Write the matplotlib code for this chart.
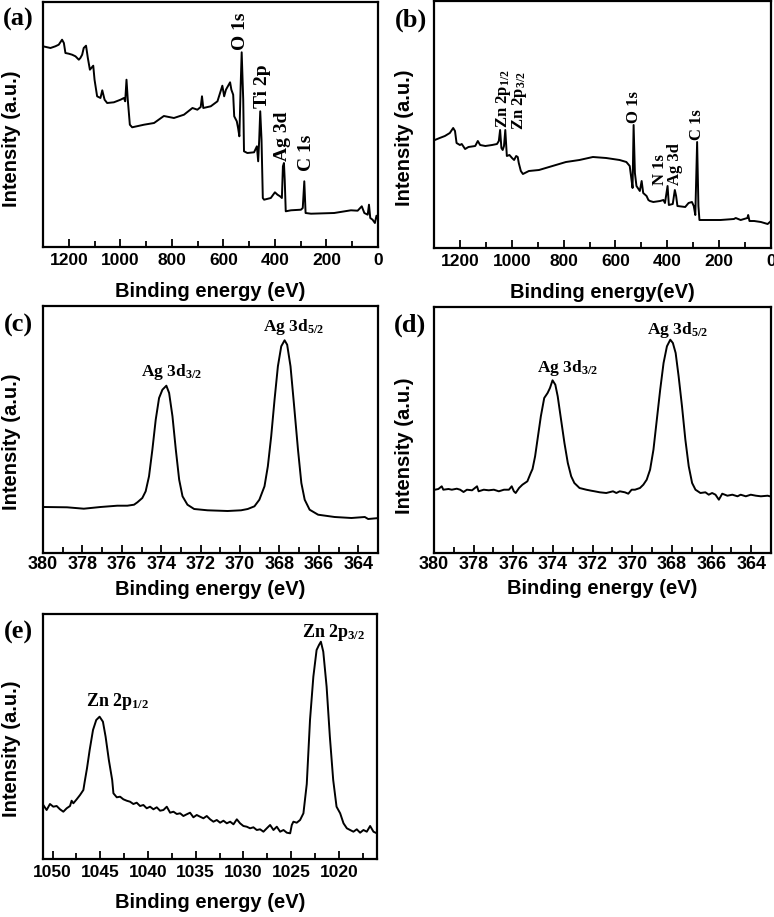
import matplotlib
matplotlib.use("Agg")
import matplotlib.pyplot as plt
from matplotlib.ticker import MultipleLocator

# ---- data ----
# (a) survey spectrum
a_energy = [1300, 1271, 1252, 1239, 1226, 1219, 1213, 1200, 1187, 1174,
            1161, 1155, 1148, 1142, 1133, 1126, 1118, 1105, 1100, 1090,
            1077, 1070, 1061, 1051, 1025, 999, 986, 981, 976, 971,
            963, 954, 908, 869, 831, 792, 753, 720, 701, 688,
            683, 678, 649, 623, 604, 597, 590, 574, 569, 562,
            558, 548, 543, 538, 533, 529, 523, 520, 507, 481,
            470, 465, 461, 457, 452, 447, 442, 416, 400, 390,
            380, 373, 369, 365, 362, 358, 338, 299, 292, 286,
            281, 260, 170, 105, 79, 63, 53, 40, 35, 30,
            21, 12, 6, 0]
a_intensity = [200.7, 199, 200.7, 202.3, 207.3, 204, 194, 193.3, 192.3, 190.7,
               187.3, 189, 192.3, 199, 201.3, 189, 177.3, 181.3, 167.3, 150.7,
               149, 156.7, 147.3, 144, 144.7, 147.3, 149, 145.7, 167.3, 147.3,
               122.3, 119.7, 122.3, 124, 131, 129, 132.3, 139, 137.3, 140,
               150.7, 139, 140.7, 145.7, 161.3, 150.7, 157.3, 164.7, 157.3, 152.3,
               130.7, 125.7, 119, 110.7, 160.7, 194.7, 147.3, 95.7, 94, 94.7,
               100.7, 85.7, 107.3, 135.7, 107.3, 49, 47.3, 49, 54.7, 52.3,
               50.7, 49, 80.7, 84, 67.3, 35.7, 36.7, 37.3, 39, 65.7,
               34, 33.3, 34, 36.7, 36.3, 40.7, 34, 32.3, 42.3, 29,
               27.3, 24, 31.3, 27.3]

# (b) survey spectrum
b_energy = [1297, 1278, 1258, 1239, 1226, 1219, 1213, 1200, 1193, 1180,
            1167, 1141, 1131, 1122, 1102, 1076, 1057, 1050, 1045, 1040,
            1035, 1030, 1025, 1019, 1009, 999, 991, 983, 977, 973,
            965, 957, 934, 895, 843, 791, 739, 687, 636, 610,
            584, 558, 545, 538, 534, 530, 525, 519, 506, 499,
            493, 480, 473, 467, 454, 428, 415, 409, 399, 394,
            379, 371, 366, 361, 331, 318, 305, 298, 292, 285,
            280, 276, 246, 195, 143, 136, 117, 91, 88, 83,
            65, 39, 13, 0]
b_intensity = [108, 110, 112, 115, 120, 117, 105, 103, 104, 99,
               101, 102, 107, 103, 102, 103, 104, 107, 118, 100,
               98, 102, 118, 92, 93, 90, 88, 92, 91, 85,
               77, 74, 77, 78, 82, 86, 88, 91, 90, 89,
               88, 86, 82, 68, 60, 123, 75, 62, 57, 67,
               55, 52, 48, 47, 46, 47, 48, 45, 62, 43,
               44, 58, 52, 42, 41, 45, 46, 42, 33, 106,
               42, 28, 28, 28, 29, 30, 28, 30, 33, 27,
               27, 26, 24, 27]

# (c) Ag 3d high resolution
c_energy = [379.97, 378.78, 377.93, 377.08, 376.23, 375.72, 375.38, 375.21, 374.96, 374.79,
            374.62, 374.45, 374.28, 374.11, 373.94, 373.74, 373.60, 373.43, 373.26, 373.09,
            372.92, 372.67, 372.33, 371.65, 370.63, 369.95, 369.61, 369.27, 369.02, 368.76,
            368.59, 368.42, 368.25, 368.08, 367.91, 367.74, 367.61, 367.44, 367.27, 367.06,
            366.89, 366.72, 366.47, 366.04, 365.20, 364.35, 363.67, 363.50, 362.94]
c_intensity = [46, 45.7, 44.3, 46, 47.3, 47.3, 48.3, 50.7, 55, 61.7,
               76.7, 103.3, 133.3, 155, 163.3, 167.3, 160, 136.7, 103.3, 73.3,
               56.7, 48.3, 44, 42.7, 42, 42.7, 44, 46.7, 53.3, 66.7,
               86.7, 116.7, 153.3, 186.7, 206.7, 212.7, 208.3, 186.7, 150, 103.3,
               70, 53.3, 43.3, 38.3, 36, 35, 36, 34, 35]

# (d) Ag 3d high resolution
d_energy = [379.95, 379.78, 379.61, 379.53, 379.27, 379.10, 378.85, 378.68, 378.51, 378.34,
            378.08, 377.83, 377.75, 377.49, 377.24, 376.98, 376.73, 376.47, 376.22, 376.08,
            375.97, 375.88, 375.71, 375.54, 375.29, 375.12, 375.03, 374.90, 374.78, 374.61,
            374.44, 374.27, 374.15, 374.02, 373.88, 373.76, 373.59, 373.42, 373.25, 373.08,
            372.92, 372.66, 372.32, 372.07, 371.90, 371.64, 371.31, 370.97, 370.80, 370.63,
            370.37, 370.20, 370.03, 369.86, 369.61, 369.44, 369.27, 369.10, 368.93, 368.76,
            368.59, 368.42, 368.25, 368.08, 367.95, 367.81, 367.66, 367.49, 367.32, 367.15,
            366.98, 366.81, 366.56, 366.31, 366.14, 365.97, 365.80, 365.63, 365.46, 365.20,
            364.95, 364.69, 364.53, 364.27, 364.02, 363.76, 363.51, 363.17, 362.92]
d_intensity = [63.3, 64, 66.7, 63.3, 64, 63.3, 64.3, 63.3, 61, 63.3,
               62.7, 66.7, 61.7, 63.3, 62.7, 63.3, 61.7, 63.3, 63.3, 66.7,
               61.7, 60, 65, 68.3, 71.7, 80, 84, 96.7, 113.3, 136.7,
               155, 160, 165, 172.7, 168.3, 156.7, 133.3, 110, 90, 76.7,
               70, 65, 63.3, 62.3, 61.7, 60.7, 60, 61.7, 60, 61.7,
               60.7, 59.3, 63.3, 63.3, 65, 68.3, 73.3, 83.3, 103.3, 133.3,
               163.3, 190, 206.7, 213.3, 210, 200, 176.7, 146.7, 113.3, 86.7,
               70, 63.3, 60, 60.7, 58.3, 60, 58.3, 53.3, 59.3, 57.3,
               58.3, 56.7, 58.3, 56.7, 58.3, 57.3, 56.7, 57.3, 56]

# (e) Zn 2p high resolution
e_energy = [1050.97, 1050.62, 1050.27, 1049.92, 1049.57, 1049.22, 1048.87, 1048.52, 1048.17, 1048.00,
            1047.82, 1047.47, 1047.12, 1046.77, 1046.63, 1046.39, 1046.11, 1045.76, 1045.42, 1045.07,
            1044.72, 1044.44, 1044.10, 1043.75, 1043.62, 1043.27, 1042.92, 1042.58, 1042.23, 1041.88,
            1041.53, 1041.18, 1040.83, 1040.48, 1040.13, 1039.78, 1039.43, 1039.08, 1038.73, 1038.38,
            1038.03, 1037.68, 1037.33, 1036.98, 1036.63, 1036.29, 1035.94, 1035.59, 1035.24, 1034.89,
            1034.54, 1034.19, 1033.84, 1033.49, 1033.14, 1032.79, 1032.44, 1032.09, 1031.74, 1031.39,
            1031.04, 1030.69, 1030.35, 1030.00, 1029.65, 1029.30, 1028.95, 1028.60, 1028.25, 1027.90,
            1027.55, 1027.20, 1026.85, 1026.50, 1026.15, 1025.80, 1025.45, 1025.10, 1024.93, 1024.76,
            1024.41, 1024.06, 1023.71, 1023.36, 1023.02, 1022.67, 1022.33, 1022.08, 1021.88, 1021.63,
            1021.28, 1020.94, 1020.59, 1020.24, 1019.86, 1019.51, 1019.16, 1018.82, 1018.47, 1018.12,
            1017.77, 1017.42, 1017.07, 1016.72, 1016.37, 1016.02]
e_intensity = [54, 49, 55, 52.3, 53, 49.7, 47.3, 50.7, 53, 58.3,
               55.7, 59.7, 64, 69, 77.3, 90.7, 109, 129, 139, 142.3,
               137.3, 122.3, 99, 79, 65.7, 61.7, 62.3, 59.7, 58.3, 57.3,
               55, 56.3, 53, 54, 50.7, 52.3, 49.7, 51.7, 48.3, 49,
               52.3, 46.3, 47.3, 45, 45.7, 43, 44.7, 46.3, 41.7, 44,
               42.3, 40.7, 43, 39.7, 37.3, 39, 36.3, 38.3, 35.7, 37.3,
               34.7, 39.7, 35.7, 33, 32.3, 30.7, 31.7, 29, 29.7, 27.3,
               30.7, 34, 29, 32.3, 27.3, 29, 26.3, 25.7, 34, 37.3,
               36.3, 39, 45.7, 75, 139, 182.3, 209, 214, 217.3, 207.3,
               172.3, 122.3, 79, 52.3, 45.7, 35.7, 30.7, 29, 27.3, 29.7,
               26.3, 29, 27.3, 33, 27.3, 25.7]

# peak labels: (text, energy, intensity at bottom of label)
a_labels = [("O 1s", 532, 197), ("Ti 2p", 450, 139), ("Ag 3d", 369, 86), ("C 1s", 279, 76)]
b_labels = [(r"Zn 2p$_{\mathrm{1/2}}$", 1032, 120), (r"Zn 2p$_{\mathrm{3/2}}$", 972, 118),
            ("O 1s", 528, 125), ("N 1s", 428, 63), ("Ag 3d", 371, 63), ("C 1s", 287, 108)]
c_labels = [(r"Ag 3d$_{\mathrm{3/2}}$", 373.5, 171), (r"Ag 3d$_{\mathrm{5/2}}$", 367.3, 216)]
d_labels = [(r"Ag 3d$_{\mathrm{3/2}}$", 373.26, 175), (r"Ag 3d$_{\mathrm{5/2}}$", 367.7, 213)]
e_labels = [(r"Zn 2p$_{\mathrm{1/2}}$", 1043.2, 147), (r"Zn 2p$_{\mathrm{3/2}}$", 1020.5, 216)]

plt.rcParams["font.family"] = "Liberation Sans"
plt.rcParams["font.weight"] = "bold"
plt.rcParams["mathtext.fontset"] = "custom"
plt.rcParams["mathtext.rm"] = "Liberation Serif:bold"
plt.rcParams["mathtext.it"] = "Liberation Serif:italic:bold"
plt.rcParams["mathtext.bf"] = "Liberation Serif:bold"

W, H = 774, 917
fig = plt.figure(figsize=(7.74, 9.17), dpi=100)


def panel(box, x, y, xlim, ylim, major, minor, tick_fs, tick_pad, xlabel, xlab_y, ylab_x, ylab_y,
          labels, label_fs, rotate, letter, letter_xy):
    l, t, r, b = box
    ax = fig.add_axes([l / W, 1 - b / H, (r - l) / W, (b - t) / H])
    ax.plot(x, y, color="black", lw=1.4)
    ax.set_xlim(*xlim)
    ax.set_ylim(*ylim)
    ax.set_yticks([])
    ax.xaxis.set_major_locator(MultipleLocator(major))
    ax.xaxis.set_minor_locator(MultipleLocator(minor))
    ax.tick_params(axis="x", which="major", direction="in", length=6, width=1.3,
                   labelsize=tick_fs, pad=tick_pad)
    ax.tick_params(axis="x", which="minor", direction="in", length=4, width=1.3)
    for s in ax.spines.values():
        s.set_linewidth(1.6)
    for lab in ax.get_xticklabels():
        lab.set_fontweight("bold")
    ax.set_xlabel(xlabel, fontsize=14.5, fontweight="bold")
    ax.xaxis.set_label_coords(0.5, xlab_y)
    ax.set_ylabel("Intensity (a.u.)", fontsize=14.5, fontweight="bold")
    ax.yaxis.set_label_coords(ylab_x, ylab_y)
    for txt, ex, ey in labels:
        ax.text(ex, ey, txt, rotation=90 if rotate else 0, ha="center", va="bottom",
                fontsize=label_fs, fontfamily="Liberation Serif", fontweight="bold")
    fig.text(letter_xy[0] / W, 1 - letter_xy[1] / H, letter, ha="center", va="center",
             fontsize=19, fontfamily="Liberation Serif", fontweight="bold")
    return ax


panel((43, 2, 378, 247), a_energy, a_intensity, (1300, 0), (0, 245), 200, 100, 12.5, 4,
      "Binding energy (eV)", -0.143, -0.066, 0.443, a_labels, 14, True, "(a)", (18, 19))
panel((434, 1, 771, 248), b_energy, b_intensity, (1300, 0), (0, 247), 200, 100, 12.5, 4,
      "Binding energy(eV)", -0.142, -0.06, 0.447, b_labels, 12, True, "(b)", (411, 20))
panel((43, 306, 378, 553), c_energy, c_intensity, (380, 363), (0, 247), 2, 1, 13, 2,
      "Binding energy (eV)", -0.11, -0.066, 0.45, c_labels, 12.5, False, "(c)", (18, 325))
panel((434, 307, 771, 553), d_energy, d_intensity, (380, 363), (0, 246), 2, 1, 13, 2,
      "Binding energy (eV)", -0.106, -0.06, 0.435, d_labels, 12.5, False, "(d)", (410, 325))
panel((43, 614, 377, 859), e_energy, e_intensity, (1051, 1016), (0, 245), 5, 2.5, 12.5, 4,
      "Binding energy (eV)", -0.139, -0.066, 0.45, e_labels, 13, False, "(e)", (18, 632))

fig.savefig("out.png", dpi=100)
